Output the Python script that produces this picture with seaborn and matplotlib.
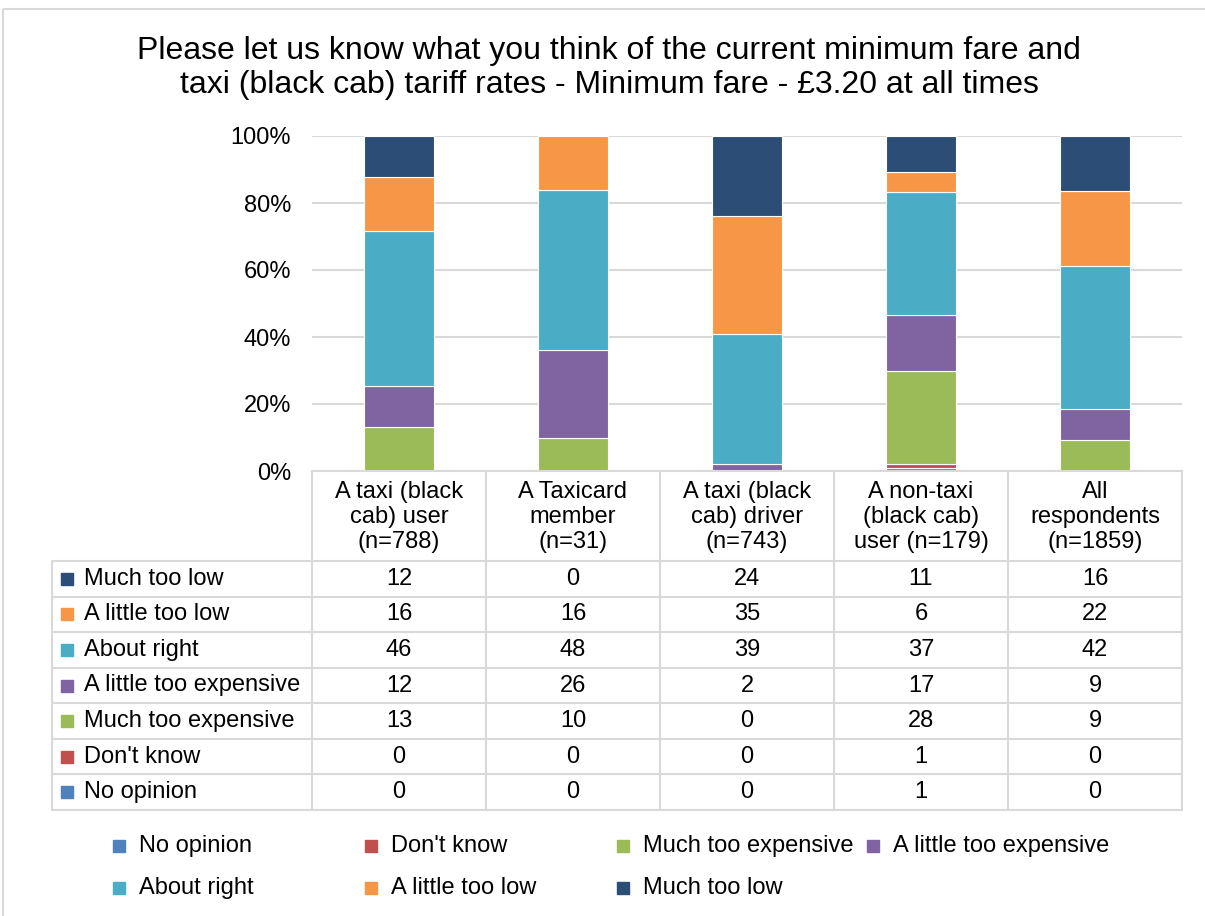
import numpy as np
import pandas as pd
import seaborn as sns
import matplotlib.pyplot as plt
from matplotlib.lines import Line2D
from matplotlib.patches import Rectangle

groups = ["A taxi (black\ncab) user\n(n=788)", "A Taxicard\nmember\n(n=31)",
          "A taxi (black\ncab) driver\n(n=743)", "A non-taxi\n(black cab)\nuser (n=179)",
          "All\nrespondents\n(n=1859)"]
no_opinion = [0, 0, 0, 1, 0]
dont_know = [0, 0, 0, 1, 0]
much_too_expensive = [13, 10, 0, 28, 9]
little_too_expensive = [12, 26, 2, 17, 9]
about_right = [46, 48, 39, 37, 42]
little_too_low = [16, 16, 35, 6, 22]
much_too_low = [12, 0, 24, 11, 16]

# orden de apilado (de abajo hacia arriba)
series_names = ["No opinion", "Don't know", "Much too expensive", "A little too expensive",
                "About right", "A little too low", "Much too low"]
series_vals = [no_opinion, dont_know, much_too_expensive, little_too_expensive,
               about_right, little_too_low, much_too_low]
colors = ["#4F81BD", "#C0504D", "#9BBB59", "#8064A2", "#4BACC6", "#F79646", "#2C4D75"]

df = pd.DataFrame(dict(zip(series_names, series_vals)))
df["group"] = [f"g{i}" for i in range(len(groups))]
totals = df[series_names].sum(axis=1)
shares = df[series_names].div(totals, axis=0) * 100

sns.set_theme(style="white")
plt.rcParams["font.family"] = ["Liberation Sans", "DejaVu Sans"]
plt.rcParams["text.color"] = "black"
plt.rcParams["ytick.color"] = "black"

W, H = 1205, 916
fig = plt.figure(figsize=(W / 100, H / 100), dpi=100)
fs = 17

# ejes del gráfico en píxeles
x0, x1, y_top, y_bot = 312, 1182, 136, 471
ax = fig.add_axes([x0 / W, 1 - y_bot / H, (x1 - x0) / W, (y_bot - y_top) / H])

bottom = np.zeros(len(groups))
for name, col in zip(series_names, colors):
    sns.barplot(x=df["group"], y=shares[name], order=df["group"].tolist(), color=col,
                saturation=1, width=0.4, bottom=bottom, errorbar=None,
                edgecolor="white", linewidth=0.8, ax=ax)
    bottom = bottom + shares[name].values

ax.set_xlim(-0.5, len(groups) - 0.5)
ax.set_ylim(0, 100)
ax.set_yticks([0, 20, 40, 60, 80, 100])
ax.set_yticklabels([f"{t}%" for t in [0, 20, 40, 60, 80, 100]], fontsize=fs)
ax.tick_params(axis="y", length=0, pad=15)
ax.set_xticks([])
ax.set_xlabel("")
ax.set_ylabel("")
ax.grid(axis="y", color="#D9D9D9", linewidth=1.5)
ax.set_axisbelow(True)
for s in ax.spines.values():
    s.set_visible(False)

# capa superpuesta en píxeles para tabla, título y leyenda
ov = fig.add_axes([0, 0, 1, 1], facecolor="none")
ov.set_xlim(0, W)
ov.set_ylim(H, 0)
ov.axis("off")

ov.add_patch(Rectangle((3, 9), W, H, fill=False, edgecolor="#D9D9D9", linewidth=1.5))

ov.text(609, 68, "Please let us know what you think of the current minimum fare and\n"
        "taxi (black cab) tariff rates - Minimum fare - £3.20 at all times",
        ha="center", va="center", fontsize=23, linespacing=1.2)

# tabla
grid_c = "#D9D9D9"
label_x0 = 52
col_w = (x1 - x0) / len(groups)
head_bot = 561
row_h = (810 - head_bot) / len(series_names)
table_rows = list(zip(series_names, series_vals, colors))[::-1]

for i in range(len(groups) + 1):
    xx = x0 + i * col_w
    ov.add_line(Line2D([xx, xx], [y_bot, 810], color=grid_c, lw=1.5))
ov.add_line(Line2D([label_x0, label_x0], [head_bot, 810], color=grid_c, lw=1.5))
ov.add_line(Line2D([x0, x1], [y_bot, y_bot], color=grid_c, lw=1.5))
for r in range(len(series_names) + 1):
    yy = head_bot + r * row_h
    ov.add_line(Line2D([label_x0, x1], [yy, yy], color=grid_c, lw=1.5))

for i, g in enumerate(groups):
    ov.text(x0 + (i + 0.5) * col_w, (y_bot + head_bot) / 2 + 1, g, ha="center",
            va="center", fontsize=fs, linespacing=1.2)

for r, (name, vals, col) in enumerate(table_rows):
    yc = head_bot + (r + 0.5) * row_h
    ov.add_patch(Rectangle((61, yc - 6), 12, 12, color=col))
    ov.text(84, yc, name, ha="left", va="center", fontsize=fs)
    for i, v in enumerate(vals):
        ov.text(x0 + (i + 0.5) * col_w, yc, str(v), ha="center", va="center", fontsize=fs)

# leyenda
leg_pos = [(113, 846), (365, 846), (617, 846), (867, 846),
           (113, 888), (365, 888), (617, 888)]
for (lx, ly), name, col in zip(leg_pos, series_names, colors):
    ov.add_patch(Rectangle((lx, ly - 6), 12, 12, color=col))
    ov.text(lx + 26, ly, name, ha="left", va="center", fontsize=fs)

fig.savefig("out.png", dpi=100)
